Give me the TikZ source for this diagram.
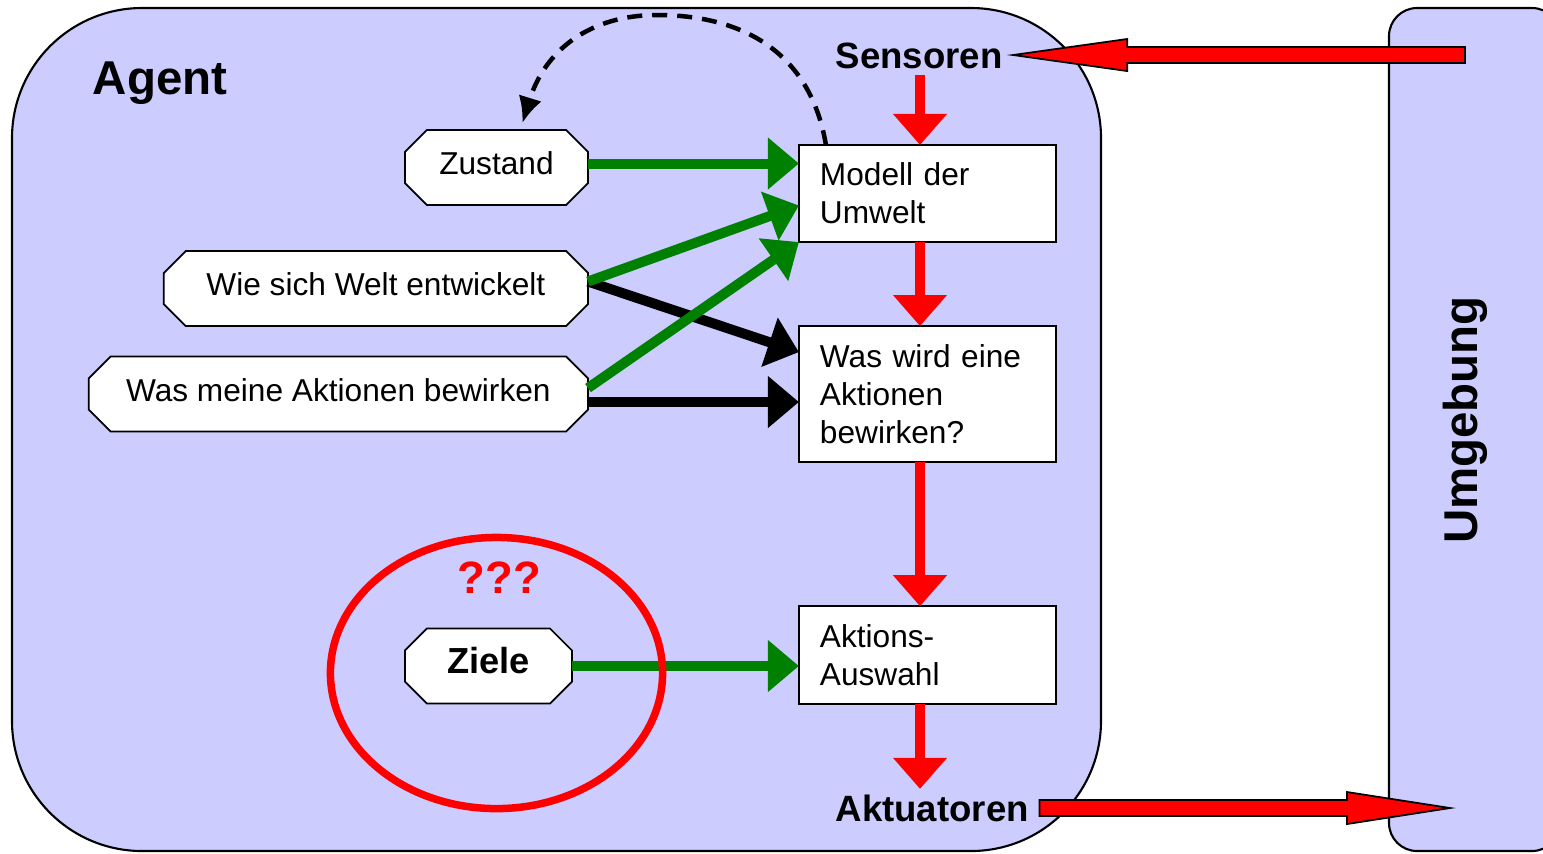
\documentclass[tikz,border=0pt]{standalone}
\usepackage{fontspec}
\setmainfont{Liberation Sans}
\usepackage{tikz}
\usetikzlibrary{shapes.geometric,arrows.meta,positioning,calc}

\definecolor{agentblue}{RGB}{204,204,255}
\definecolor{okgreen}{RGB}{0,128,0}

\pgfdeclarelayer{background}
\pgfsetlayers{background,main}

\tikzset{
  knowledge/.style={rectangle, minimum height=7.5mm, inner sep=0pt, outer sep=0pt,
    text height=2.2mm, text depth=0.8mm, font=\fontsize{9}{10.8}\selectfont},
  knowledge frame/.style={draw=black, fill=white, line width=0.5pt},
  process/.style={rectangle, draw=black, fill=white, line width=0.6pt, text width=21.5mm, align=left,
    inner xsep=2.1mm, inner ysep=0pt, outer sep=0pt, font=\fontsize{9}{10.8}\selectfont},
  io/.style={font=\fontsize{10.4}{12}\selectfont\bfseries, inner xsep=1mm, inner ysep=0.5mm},
  title/.style={font=\fontsize{13.5}{16}\selectfont\bfseries},
  flow/.style={line width=1mm, red, -{Triangle[length=3.1mm, width=5.2mm]}},
  infl/.style={line width=1mm, okgreen, -{Triangle[length=3.1mm, width=5mm]}},
  pred/.style={line width=1mm, black, -{Triangle[length=3.1mm, width=5mm]}},
  bigarrow/.style={draw=black, fill=red, line width=0.5pt, line join=miter},
}

% octagonal frame around a knowledge node
\newcommand{\octagon}[1]{%
  \draw[knowledge frame] ($(#1.north west)+(22,0)$) -- ($(#1.north east)+(-22,0)$)
    -- ($(#1.north east)+(0,22)$) -- ($(#1.south east)+(0,-22)$)
    -- ($(#1.south east)+(-22,0)$) -- ($(#1.south west)+(22,0)$)
    -- ($(#1.south west)+(0,-22)$) -- ($(#1.north west)+(0,22)$) -- cycle;}

% horizontal block arrow: tail, tip, signed head length
\newcommand{\bigarrow}[3]{%
  \draw[bigarrow] let \p1=(#1), \p2=(#2) in
    (\x1,\y1+0.8mm) -- (\x2+#3,\y1+0.8mm) -- (\x2+#3,\y1+1.6mm) -- (\x2,\y1)
    -- (\x2+#3,\y1-1.6mm) -- (\x2+#3,\y1-0.8mm) -- (\x1,\y1-0.8mm) -- cycle;}

\begin{document}
\begin{tikzpicture}[x=0.01cm, y=-0.01cm]
\useasboundingbox (0,0) rectangle (1543,853);
\clip (0,0) rectangle (1543,853);

\node (agent) [title] at (160,83) {Agent};
\node (env) [title, rotate=90] at (1465,420) {Umgebung};

% right column
\node (sensors) [io, anchor=west] at (825,56) {Sensoren};
\node (model) [process, minimum height=9.7mm] at (927.5,193.5) {Modell der\\Umwelt};
\node (whatif) [process, minimum height=13.6mm, below=8.4mm of model] {Was wird eine\\Aktionen\\bewirken?};
\node (actions) [process, minimum height=9.8mm, below=14.4mm of whatif] {Aktions-\\Auswahl};
\node (actuators) [io, anchor=west] at (825,808) {Aktuatoren};

% knowledge on the left
\node (state) [knowledge, minimum width=18.3mm, anchor=east] at (588,167.5) {Zustand};
\node (world) [knowledge, minimum width=42.4mm, anchor=east] at (588,288.5) {Wie sich Welt entwickelt};
\node (effects) [knowledge, minimum width=49.9mm, anchor=east] at (588,394) {Was meine Aktionen bewirken};
\node (goals) [knowledge, minimum width=16.7mm, anchor=east, font=\fontsize{10.3}{12}\selectfont\bfseries] at (572,666) {Ziele};
\node (doubt) [text=red, font=\fontsize{12.9}{15}\selectfont\bfseries] at (499.5,578) {???};

\begin{pgfonlayer}{background}
  % agent and environment
  \draw[fill=agentblue, line width=0.6pt, rounded corners=13mm] (12,8) rectangle (1101,851);
  \draw[fill=agentblue, line width=0.6pt, rounded corners=2.8mm] (1389,8) rectangle (1560,851);
  \octagon{state}
  \octagon{world}
  \octagon{effects}
  \octagon{goals}
\end{pgfonlayer}

% main chain
\coordinate (spine) at (920,0);
\draw[flow] (sensors.south -| spine) -- (model.north -| spine);
\draw[flow] (model.south -| spine) -- (whatif.north -| spine);
\draw[flow] (whatif.south -| spine) -- (actions.north -| spine);
\draw[flow] (actions.south -| spine) -- (actuators.north -| spine);

% prediction
\draw[pred] ($(world.east)+(0,-7)$) -- ($(whatif.north west)+(0,26)$);
\draw[pred] ($(effects.east)+(0,8)$) -- ($(effects.east -| whatif.west)+(0,8)$);

% updating the model
\draw[infl] ($(state.east)+(0,-4)$) -- ($(state.east -| model.west)+(0,-4)$);
\draw[infl] ($(world.east)+(0,-7)$) -- ($(model.west)+(0,12)$);
\draw[infl] ($(effects.east)+(0,-6)$) -- (model.south west);
\draw[infl] (goals.east) -- (goals.east -| actions.west);

\node (goalring) [ellipse, draw=red, line width=0.75mm, minimum width=33.2mm, minimum height=27.1mm, inner sep=0pt] at (496.5,673) {};

% feedback of the state
\coordinate (fromModel) at ($(model.north west)+(27,0)$);
\coordinate (toState) at ($(state.north)+(26,-7)$);
\draw[line width=0.45mm, dash pattern=on 1.5mm off 1mm, -{Latex[length=2.6mm, width=2.4mm]}]
  (fromModel) .. controls (810,50) and (740,15) .. (657,15) .. controls (590,15) and (545,50) .. (toState);

% environment links
\coordinate (envin) at (1465,55);
\coordinate (envout) at (1450,808);
\bigarrow{envin}{sensors.east}{11.4mm}
\bigarrow{actuators.east}{envout}{-10.3mm}
\end{tikzpicture}
\end{document}
